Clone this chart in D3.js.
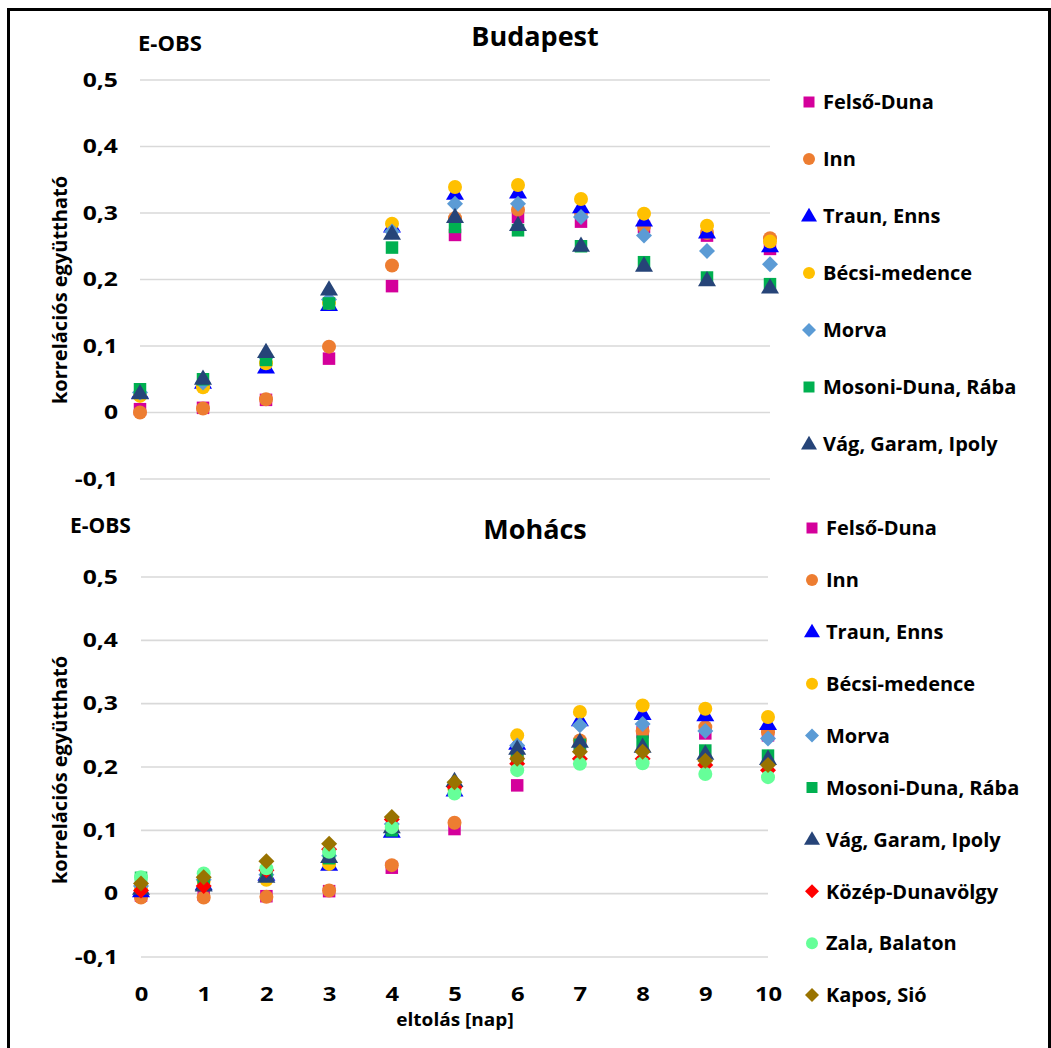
<!DOCTYPE html>
<html>
<head>
<meta charset="utf-8">
<script src="https://cdn.jsdelivr.net/npm/d3@7"></script>
<style>
  html, body { margin: 0; padding: 0; background: #fff; }
  svg { display: block; }
  text { font-family: "Open Sans", Lato, sans-serif; font-weight: bold; fill: #000; }
</style>
</head>
<body>
<svg id="chart" width="1051" height="1048"></svg>
<script>
// Lag in days
const lags = [0, 1, 2, 3, 4, 5, 6, 7, 8, 9, 10];
const yTicks = [-0.1, 0, 0.1, 0.2, 0.3, 0.4, 0.5];

// Sub-catchment names
const namesBudapest = ["Felső-Duna", "Inn", "Traun, Enns", "Bécsi-medence", "Morva", "Mosoni-Duna, Rába", "Vág, Garam, Ipoly"];
const namesMohacs = ["Felső-Duna", "Inn", "Traun, Enns", "Bécsi-medence", "Morva", "Mosoni-Duna, Rába", "Vág, Garam, Ipoly", "Közép-Dunavölgy", "Zala, Balaton", "Kapos, Sió"];

// Budapest: correlation coefficient per lag, one array per sub-catchment
const budFelsoDuna = [0.005, 0.007, 0.019, 0.081, 0.19, 0.267, 0.294, 0.287, 0.279, 0.266, 0.246];
const budInn       = [0.0, 0.006, 0.02, 0.099, 0.221, 0.292, 0.305, 0.3, 0.28, 0.27, 0.262];
const budTraun     = [0.03, 0.045, 0.068, 0.162, 0.28, 0.329, 0.331, 0.309, 0.289, 0.271, 0.25];
const budBecsi     = [0.025, 0.038, 0.074, 0.165, 0.284, 0.339, 0.342, 0.321, 0.299, 0.281, 0.257];
const budMorva     = [0.03, 0.045, 0.083, 0.17, 0.272, 0.314, 0.314, 0.294, 0.266, 0.243, 0.223];
const budMosoni    = [0.035, 0.05, 0.079, 0.164, 0.248, 0.279, 0.274, 0.25, 0.226, 0.203, 0.193];
const budVag       = [0.029, 0.051, 0.091, 0.185, 0.269, 0.294, 0.282, 0.251, 0.221, 0.199, 0.188];

// Mohács: correlation coefficient per lag, one array per sub-catchment
const mohFelsoDuna = [-0.003, -0.002, -0.004, 0.004, 0.041, 0.102, 0.171, 0.236, 0.255, 0.253, 0.25];
const mohInn       = [-0.006, -0.006, -0.005, 0.005, 0.045, 0.112, 0.215, 0.242, 0.257, 0.263, 0.255];
const mohTraun     = [0.004, 0.015, 0.03, 0.046, 0.098, 0.163, 0.237, 0.274, 0.284, 0.282, 0.268];
const mohBecsi     = [0.008, 0.02, 0.022, 0.047, 0.102, 0.165, 0.25, 0.287, 0.297, 0.292, 0.279];
const mohMorva     = [0.012, 0.022, 0.03, 0.06, 0.11, 0.17, 0.234, 0.266, 0.268, 0.257, 0.245];
const mohMosoni    = [0.025, 0.025, 0.032, 0.056, 0.1, 0.165, 0.216, 0.235, 0.24, 0.226, 0.218];
const mohVag       = [0.008, 0.013, 0.027, 0.058, 0.105, 0.178, 0.229, 0.24, 0.232, 0.221, 0.213];
const mohKozep     = [0.005, 0.012, 0.037, 0.07, 0.117, 0.168, 0.205, 0.213, 0.213, 0.203, 0.195];
const mohZala      = [0.026, 0.032, 0.04, 0.066, 0.105, 0.158, 0.195, 0.205, 0.206, 0.189, 0.184];
const mohKapos     = [0.016, 0.026, 0.051, 0.079, 0.121, 0.176, 0.213, 0.224, 0.224, 0.21, 0.203];

const valuesBudapest = [budFelsoDuna, budInn, budTraun, budBecsi, budMorva, budMosoni, budVag];
const valuesMohacs = [mohFelsoDuna, mohInn, mohTraun, mohBecsi, mohMorva, mohMosoni, mohVag, mohKozep, mohZala, mohKapos];

// Marker colour and shape per sub-catchment (same order as the names)
const colors = ["#D4009B", "#ED7D31", "#0000FF", "#FFC000", "#5B9BD5", "#00B050", "#264478", "#FF0000", "#66FF99", "#997300"];
const shapes = ["square", "circle", "triangle", "circle", "diamond", "square", "triangle", "diamond", "circle", "diamond"];

// Marker symbol types; size is the nominal width in pixels
const markerTypes = {
  square:   { draw(ctx, s) { const h = s / 2; ctx.rect(-h, -h, s, s); } },
  circle:   { draw(ctx, s) { const r = s / 2; ctx.moveTo(r, 0); ctx.arc(0, 0, r, 0, 2 * Math.PI); } },
  triangle: { draw(ctx, s) { const h = s * 0.85; ctx.moveTo(0, -h * 0.6); ctx.lineTo(s / 2, h * 0.4); ctx.lineTo(-s / 2, h * 0.4); ctx.closePath(); } },
  diamond:  { draw(ctx, s) { const h = s / 2; ctx.moveTo(0, -h); ctx.lineTo(h, 0); ctx.lineTo(0, h); ctx.lineTo(-h, 0); ctx.closePath(); } }
};
const markerSize = { square: 12.5, circle: 14, triangle: 18, diamond: 16 };
const legendMarkerSize = { square: 11, circle: 12, triangle: 16, diamond: 14 };

const svg = d3.select("#chart");

// Outer frame
svg.append("path")
  .attr("d", "M8.5,1048 L8.5,9.5 L1049.5,9.5 L1049.5,1048")
  .attr("fill", "none").attr("stroke", "#000").attr("stroke-width", 3);

const fmt = v => (Math.abs(v) < 1e-9 ? "0" : d3.format(".1f")(v).replace(".", ",").replace("−", "-"));

// Places a text at (x, y) with a horizontal stretch factor
function label(parent, x, y, str, size, sx, anchor) {
  return parent.append("text")
    .attr("transform", `translate(${x},${y}) scale(${sx},1)`)
    .attr("text-anchor", anchor || "start")
    .attr("font-size", size).text(str);
}

function panel(opts) {
  const { title, names, values, xRange, yRange, titleY, eobsX, eobsY, eobsSize, legendTop, legendStep, legendX, ylabelY, showX } = opts;
  const x = d3.scaleLinear().domain([0, 10]).range(xRange);
  const y = d3.scaleLinear().domain([-0.1, 0.5]).range(yRange);
  const g = svg.append("g");

  // Horizontal grid
  g.append("g").selectAll("line").data(yTicks).join("line")
    .attr("x1", xRange[0]).attr("x2", xRange[1])
    .attr("y1", d => y(d)).attr("y2", d => y(d))
    .attr("stroke", "#d9d9d9").attr("stroke-width", 1.6);

  // Y axis labels
  const yAxis = d3.axisLeft(y).tickValues(yTicks).tickFormat(fmt).tickSize(0).tickPadding(0);
  const ya = g.append("g").attr("transform", `translate(118,0)`).call(yAxis);
  ya.select(".domain").remove();
  ya.selectAll("text")
    .attr("font-size", 19).attr("font-family", "'Open Sans', sans-serif").attr("font-weight", "bold").attr("fill", "#000")
    .attr("transform", "scale(1.3,1)");

  if (showX) {
    const xAxis = d3.axisBottom(x).tickValues(lags).tickFormat(d3.format("d")).tickSize(0).tickPadding(0);
    const xa = g.append("g").attr("transform", `translate(0,${y(-0.1) + 30})`).call(xAxis);
    xa.select(".domain").remove();
    xa.selectAll("text")
      .attr("font-size", 19).attr("font-family", "'Open Sans', sans-serif").attr("font-weight", "bold").attr("fill", "#000")
      .attr("transform", "scale(1.25,1)");
    label(g, 455, y(-0.1) + 69, "eltolás [nap]", 17, 1.12, "middle");
  }

  // Titles
  label(g, 535, titleY, title, 27, 1, "middle");
  label(g, eobsX, eobsY, "E-OBS", eobsSize, 1, "start");

  // Y axis title
  g.append("text")
    .attr("transform", `translate(67,${ylabelY}) rotate(-90)`)
    .attr("text-anchor", "middle").attr("font-size", 20).text("korrelációs együttható");

  // Scatter markers, series drawn in order so later ones sit on top
  names.forEach((name, i) => {
    const sym = d3.symbol().type(markerTypes[shapes[i]]).size(markerSize[shapes[i]]);
    g.append("g").selectAll("path").data(values[i]).join("path")
      .attr("transform", (d, j) => `translate(${x(lags[j])},${y(d)})`)
      .attr("d", sym)
      .attr("fill", colors[i]);
  });

  // Legend
  const lg = g.append("g");
  names.forEach((name, i) => {
    const cy = legendTop + i * legendStep;
    const sym = d3.symbol().type(markerTypes[shapes[i]]).size(legendMarkerSize[shapes[i]]);
    lg.append("path").attr("transform", `translate(${legendX},${cy})`).attr("d", sym).attr("fill", colors[i]);
    lg.append("text").attr("x", legendX + 14).attr("y", cy).attr("dy", "0.36em")
      .attr("font-size", 20).text(name);
  });
}

panel({
  title: "Budapest", names: namesBudapest, values: valuesBudapest,
  xRange: [140, 770], yRange: [479, 80], titleY: 46,
  eobsX: 138, eobsY: 51, eobsSize: 22, legendTop: 102, legendStep: 57, legendX: 809,
  ylabelY: 290, showX: false
});

panel({
  title: "Mohács", names: namesMohacs, values: valuesMohacs,
  xRange: [141, 768], yRange: [957, 577], titleY: 539,
  eobsX: 70, eobsY: 533, eobsSize: 21, legendTop: 528, legendStep: 51.9, legendX: 812,
  ylabelY: 770, showX: true
});
</script>
</body>
</html>
